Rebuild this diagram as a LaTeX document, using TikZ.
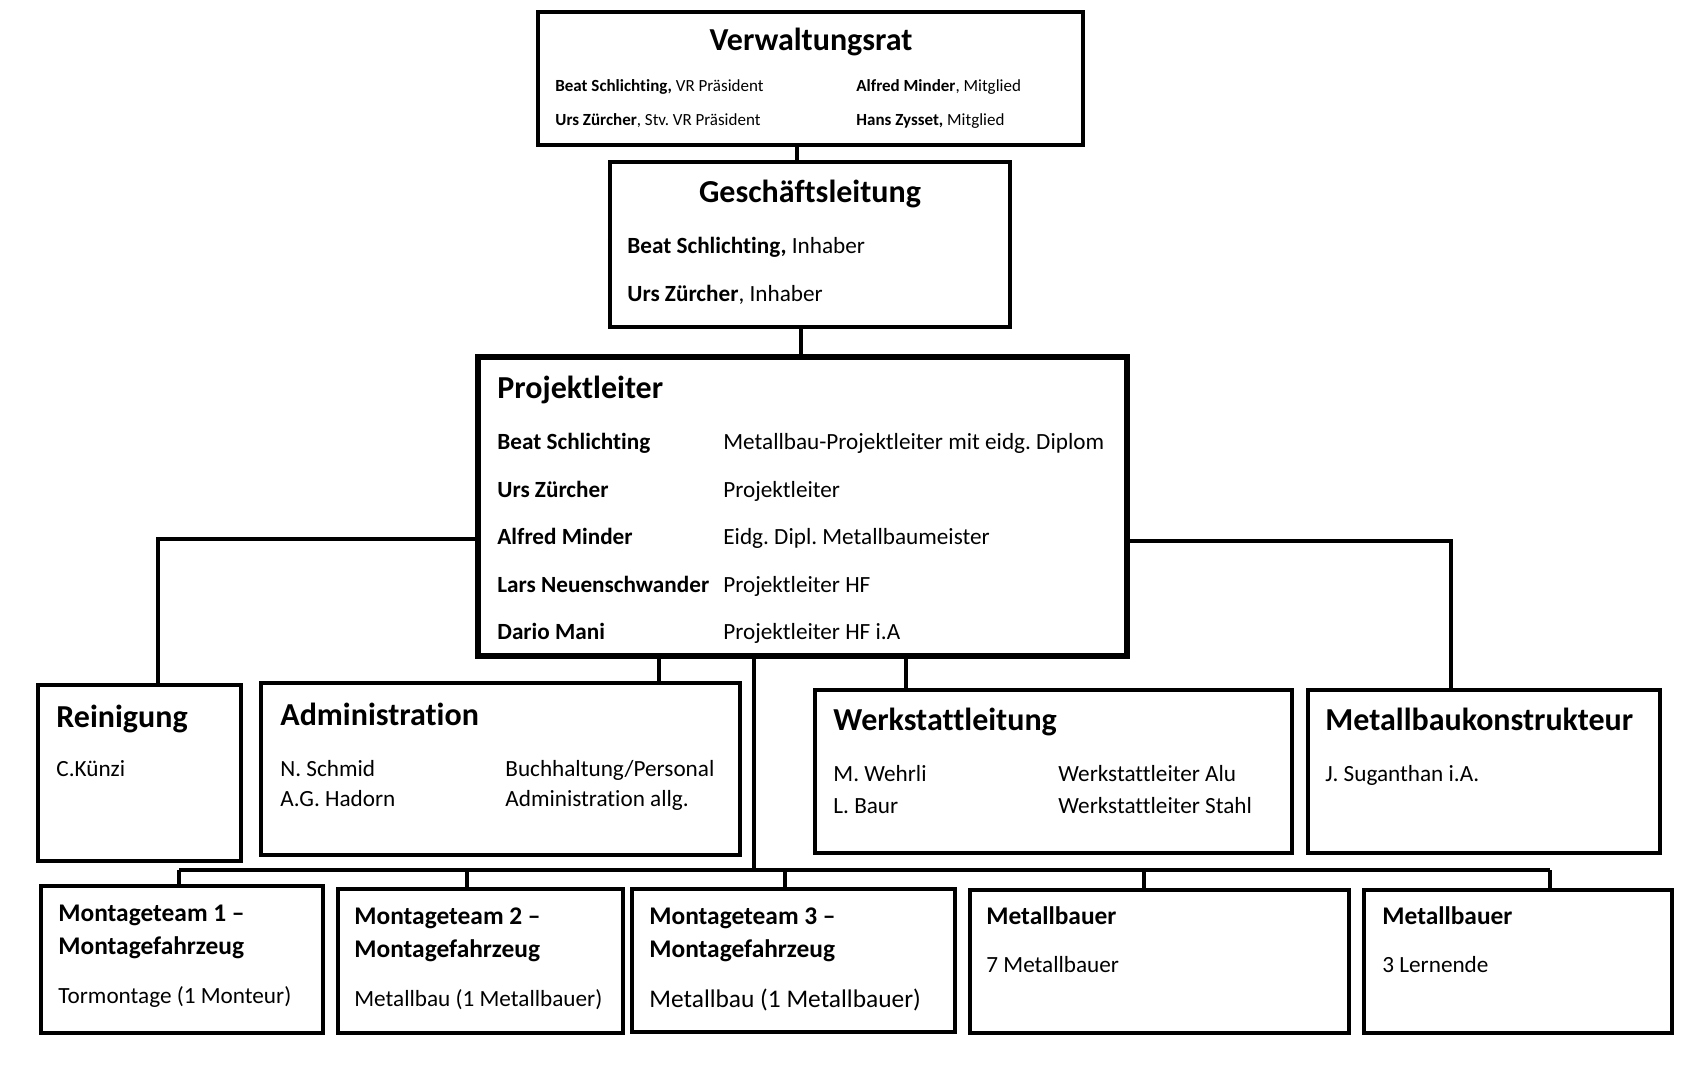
\documentclass[tikz,border=0pt]{standalone}
\usepackage{fontspec}
\setmainfont{Carlito}[Ligatures=NoCommon]
\frenchspacing
\usetikzlibrary{fit}

\tikzset{
  orgbox/.style={draw, line width=2pt, inner sep=0pt},
  leadbox/.style={orgbox, line width=2.6pt},
  txt/.style={anchor=mid west, inner sep=0pt, yshift=-2pt},
  hd/.style={txt, yshift=-1pt, font=\bfseries\fontsize{16}{19}\selectfont},
  subhd/.style={txt, font=\bfseries\fontsize{12.7}{15}\selectfont},
  row/.style={txt, font=\fontsize{11.6}{14}\selectfont},
  rowbig/.style={txt, font=\fontsize{12.7}{15}\selectfont},
  minirow/.style={txt, yshift=1pt, font=\fontsize{8.5}{10}\selectfont},
  link/.style={line width=2pt},
}

\begin{document}
\begin{tikzpicture}[x=0.5pt, y=-0.5pt]
  \useasboundingbox (0,0) rectangle (1689,1066);

  % Define boxes
  \node[orgbox, fit={(538,12)(1083,145)}]   (vr)    {};
  \node[orgbox, fit={(610,162)(1010,327)}]  (gl)    {};
  \node[leadbox, fit={(478,357)(1127,656)}] (pl)    {};
  \node[orgbox, fit={(38,685)(241,861)}]    (rein)  {};
  \node[orgbox, fit={(261,683)(740,855)}]   (admin) {};
  \node[orgbox, fit={(815,690)(1292,853)}]  (werk)  {};
  \node[orgbox, fit={(1308,690)(1660,853)}] (mbk)   {};
  \node[orgbox, fit={(41,886)(323,1033)}]   (mt1)   {};
  \node[orgbox, fit={(338,889)(623,1033)}]  (mt2)   {};
  \node[orgbox, fit={(632,889)(955,1032)}]  (mt3)   {};
  \node[orgbox, fit={(970,890)(1349,1033)}] (mb1)   {};
  \node[orgbox, fit={(1364,890)(1672,1033)}](mb2)   {};

  % Verwaltungsrat
  \node[hd, anchor=mid] (vr-t) at (811,40) {Verwaltungsrat};
  \node[minirow] (vr-a) at (555,85)  {\textbf{Beat Schlichting,} VR Präsident};
  \node[minirow] (vr-b) at (555,119) {\textbf{Urs Zürcher}, Stv. VR Präsident};
  \node[minirow] (vr-c) at (856,85)  {\textbf{Alfred Minder}, Mitglied};
  \node[minirow] (vr-d) at (856,119) {\textbf{Hans Zysset,} Mitglied};

  % Geschaeftsleitung
  \node[hd, anchor=mid] (gl-t) at (810,192) {Geschäftsleitung};
  \node[row] (gl-a) at (627,245) {\textbf{Beat Schlichting,} Inhaber};
  \node[row] (gl-b) at (627,293) {\textbf{Urs Zürcher}, Inhaber};

  % Projektleiter
  \node[hd] (pl-t) at (497,388) {Projektleiter};
  \foreach \nm/\rl [count=\i] in {Beat Schlichting/Metallbau-Projektleiter mit eidg. Diplom,
      Urs Zürcher/Projektleiter, Alfred Minder/Eidg. Dipl. Metallbaumeister,
      Lars Neuenschwander/Projektleiter HF, Dario Mani/Projektleiter HF i.A} {
    \node[row, font=\bfseries\fontsize{11.6}{14}\selectfont] (pl-n\i) at (497,{393.5+47.5*\i}) {\nm};
    \node[row] (pl-r\i) at (723,{393.5+47.5*\i}) {\rl};
  }

  % Reinigung, Administration
  \node[hd]  (rein-t) at (56,717) {Reinigung};
  \node[row] (rein-a) at (56,768) {C.Künzi};
  \node[hd]  (admin-t) at (280,715) {Administration};
  \node[row] (admin-a) at (280,768) {N. Schmid};
  \node[row] (admin-b) at (280,798) {A.G. Hadorn};
  \node[row] (admin-c) at (505,768) {Buchhaltung/Personal};
  \node[row] (admin-d) at (505,798) {Administration allg.};

  % Werkstattleitung, Metallbaukonstrukteur
  \node[hd]  (werk-t) at (833,720) {Werkstattleitung};
  \node[row] (werk-a) at (833,773) {M. Wehrli};
  \node[row] (werk-b) at (833,805) {L. Baur};
  \node[row] (werk-c) at (1058,773) {Werkstattleiter Alu};
  \node[row] (werk-d) at (1058,805) {Werkstattleiter Stahl};
  \node[hd]  (mbk-t) at (1325,720) {Metallbaukonstrukteur};
  \node[row] (mbk-a) at (1325,773) {J. Suganthan i.A.};

  % Montageteams, Metallbauer
  \node[subhd] (mt1-t) at (58,913) {Montageteam 1 –};
  \node[subhd] (mt1-u) at (58,946) {Montagefahrzeug};
  \node[row]   (mt1-a) at (58,995) {Tormontage (1 Monteur)};
  \node[subhd] (mt2-t) at (354,916) {Montageteam 2 –};
  \node[subhd] (mt2-u) at (354,949) {Montagefahrzeug};
  \node[row]   (mt2-a) at (354,998) {Metallbau (1 Metallbauer)};
  \node[subhd] (mt3-t) at (649,916) {Montageteam 3 –};
  \node[subhd] (mt3-u) at (649,949) {Montagefahrzeug};
  \node[rowbig](mt3-a) at (649,999) {Metallbau (1 Metallbauer)};
  \node[subhd] (mb1-t) at (986,916) {Metallbauer};
  \node[row]   (mb1-a) at (986,964) {7 Metallbauer};
  \node[subhd] (mb2-t) at (1382,916) {Metallbauer};
  \node[row]   (mb2-a) at (1382,964) {3 Lernende};

  % Connect the boxes
  \draw[link] (797,0 |- vr.south) -- (797,0 |- gl.north);
  \draw[link] (801,0 |- gl.south) -- (801,0 |- pl.north);
  \draw[link] (pl.west |- 0,539) -| (158,0 |- rein.north);
  \draw[link] (659,0 |- pl.south) -- (659,0 |- admin.north);
  \draw[link] (906,0 |- pl.south) -- (906,0 |- werk.north);
  \draw[link] (pl.east |- 0,541) -| (1451,0 |- mbk.north);

  \coordinate (busL) at (179,870);
  \coordinate (busR) at (1550,870);
  \draw[link] (754,0 |- pl.south) -- (754,0 |- busL);
  \draw[link] (busL) -- (busR);
  \foreach \bx/\px in {mt1/179, mt2/467, mt3/785, mb1/1144, mb2/1550}
    \draw[link] (\px,0 |- busL) -- (\px,0 |- \bx.north);

\end{tikzpicture}
\end{document}
